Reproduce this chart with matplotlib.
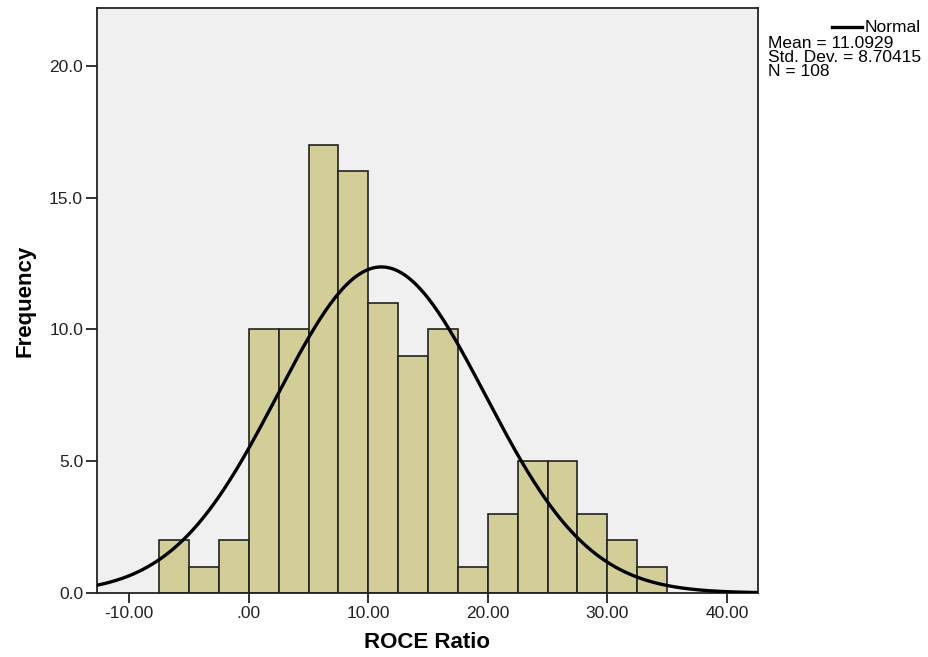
import numpy as np
import matplotlib
matplotlib.use('Agg')
from matplotlib import pyplot as plt

plt.rcParams['font.family'] = ['Liberation Sans', 'DejaVu Sans']

# histogram data (bin edges start at -7.5, width 2.5)
bin_start = -7.5
bin_width = 2.5
counts = [2, 1, 2, 10, 10, 17, 16, 11, 9, 10, 1, 3, 5, 5, 3, 2, 1]
mean = 11.0929
std = 8.70415
n = 108

x_ticks = [-10, 0, 10, 20, 30, 40]
x_tick_labels = ['-10.00', '.00', '10.00', '20.00', '30.00', '40.00']
y_ticks = [0, 5, 10, 15, 20]
y_tick_labels = ['0.0', '5.0', '10.0', '15.0', '20.0']

fig = plt.figure(figsize=(9.29, 6.57), dpi=100)
ax = fig.add_axes([0.1044, 0.0974, 0.7115, 0.8904])
ax.set_facecolor('#f0f0f0')

lefts = bin_start + bin_width * np.arange(len(counts))
ax.bar(lefts, counts, width=bin_width, align='edge', color='#d3ce98',
       edgecolor='#222222', linewidth=1.2, zorder=2)

xmin, xmax = -12.7, 42.6
xs = np.linspace(xmin, xmax, 400)
pdf = n * bin_width / (std * np.sqrt(2 * np.pi)) * np.exp(-0.5 * ((xs - mean) / std) ** 2)
ax.plot(xs, pdf, color='black', linewidth=2.4, zorder=3)

ax.set_xlim(xmin, xmax)
ax.set_ylim(0, 22.2)
ax.set_xticks(x_ticks)
ax.set_xticklabels(x_tick_labels)
ax.set_yticks(y_ticks)
ax.set_yticklabels(y_tick_labels)
ax.tick_params(direction='out', width=1.3, labelsize=12.5, colors='#222222')
ax.tick_params(axis='x', length=7, pad=2)
ax.tick_params(axis='y', length=8, pad=2)
for s in ax.spines.values():
    s.set_linewidth(1.3)
    s.set_color('#222222')

ax.set_xlabel('ROCE Ratio', fontsize=16, fontweight='bold', labelpad=8)
ax.set_ylabel('Frequency', fontsize=16, fontweight='bold', labelpad=10)

# legend-like annotation at top right
fig.add_artist(plt.Line2D([832 / 929, 862 / 929], [1 - 27 / 657, 1 - 27 / 657],
                          color='black', linewidth=2.4))
fig.text(865 / 929, 1 - 27 / 657, 'Normal', fontsize=12.5, va='center', ha='left')
fig.text(768 / 929, 1 - 43 / 657, 'Mean = %.4f' % mean, fontsize=12.5, va='center', ha='left')
fig.text(768 / 929, 1 - 58 / 657, 'Std. Dev. = %.5f' % std, fontsize=12.5, va='center', ha='left')
fig.text(768 / 929, 1 - 72 / 657, 'N = %d' % n, fontsize=12.5, va='center', ha='left')

plt.savefig('out.png', dpi=100)
